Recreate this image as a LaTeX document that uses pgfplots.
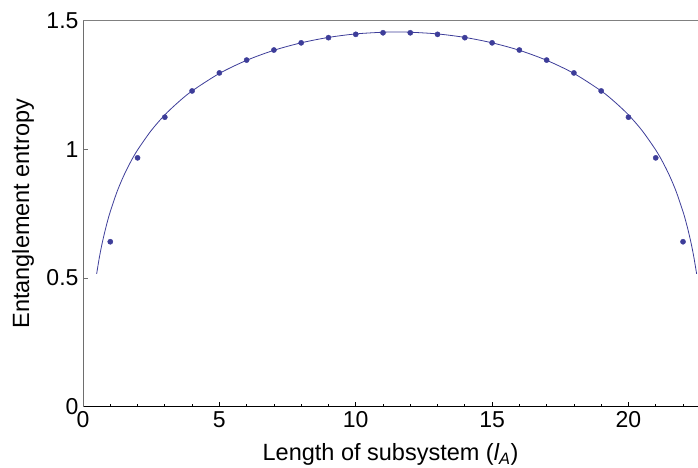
\documentclass[border=0pt]{standalone}
\usepackage{fontspec}
\setmainfont{Liberation Sans}
\usepackage{pgfplots}
\pgfplotsset{compat=1.18}
\definecolor{mblue}{RGB}{61,61,153}
\definecolor{axgray}{RGB}{110,110,110}
\begin{document}
\begin{tikzpicture}[x=1pt,y=1pt,font=\fontsize{23.5}{28}\selectfont]
\path[use as bounding box] (0,0) rectangle (698,468);
\begin{axis}[
  at={(83pt,61.3pt)}, anchor=south west,
  scale only axis, width=615pt, height=386pt,
  xmin=0, xmax=22.55, ymin=0, ymax=1.5,
  axis x line*=bottom, axis y line*=left,
  x axis line style={black, line width=1pt, -},
  y axis line style={axgray, line width=1pt, -},
  xtick={0,5,10,15,20},
  minor xtick={1,2,3,4,6,7,8,9,11,12,13,14,16,17,18,19,21,22},
  ytick={0,0.5,1,1.5},
  tick align=inside,
  x tick style={black, line width=0.8pt},
  y tick style={axgray, line width=0.8pt},
  major tick length=4.5pt, minor tick length=2.5pt,
  /pgf/number format/assume math mode=true,
  tick label style={font=\fontsize{23}{28}\selectfont, black},
  xticklabel style={yshift=-1pt},
  yticklabel style={xshift=-1pt},
  xlabel={Length of subsystem ({\itshape l}\textsubscript{\itshape A})},
  ylabel={Entanglement entropy},
  xlabel style={font=\fontsize{23.5}{28}\selectfont, at={(axis description cs:0.5,0)}, anchor=base, yshift=-54pt},
  ylabel style={font=\fontsize{23.5}{28}\selectfont, at={(axis description cs:-0.0975,0.5)}, anchor=center},
  clip=true,
]
\addplot[mblue, line width=0.8pt, smooth, no marks] coordinates {
(0.5,0.516) (0.6,0.580) (0.7,0.634) (0.8,0.680) (0.9,0.7215) (1.0,0.758)
(1.25,0.836) (1.5,0.899) (1.75,0.952) (2,0.9975) (2.5,1.073) (3,1.134)
(3.5,1.184) (4,1.227) (5,1.295) (6,1.346) (7,1.385) (8,1.414) (9,1.435)
(10,1.4486) (11,1.4552) (11.5,1.456) (12,1.4552) (13,1.4486) (14,1.435)
(15,1.414) (16,1.385) (17,1.346) (18,1.295) (19,1.227) (19.5,1.184)
(20,1.134) (20.5,1.073) (21,0.9975) (21.25,0.952) (21.5,0.899) (21.75,0.836)
(22,0.758) (22.1,0.7215) (22.2,0.680) (22.3,0.634) (22.4,0.580) (22.5,0.516)
};
\addplot[only marks, mark=*, mark size=2.6pt, mark options={fill=mblue, draw=mblue}] coordinates {
(1,0.641) (2,0.967) (3,1.125) (4,1.227) (5,1.297) (6,1.347) (7,1.386)
(8,1.414) (9,1.434) (10,1.447) (11,1.453) (12,1.453) (13,1.447) (14,1.434)
(15,1.414) (16,1.386) (17,1.347) (18,1.297) (19,1.227) (20,1.125)
(21,0.967) (22,0.641)
};
\draw[gray, line width=1.6pt] (rel axis cs:0,1) -- (rel axis cs:1,1);
\end{axis}
\end{tikzpicture}
\end{document}
